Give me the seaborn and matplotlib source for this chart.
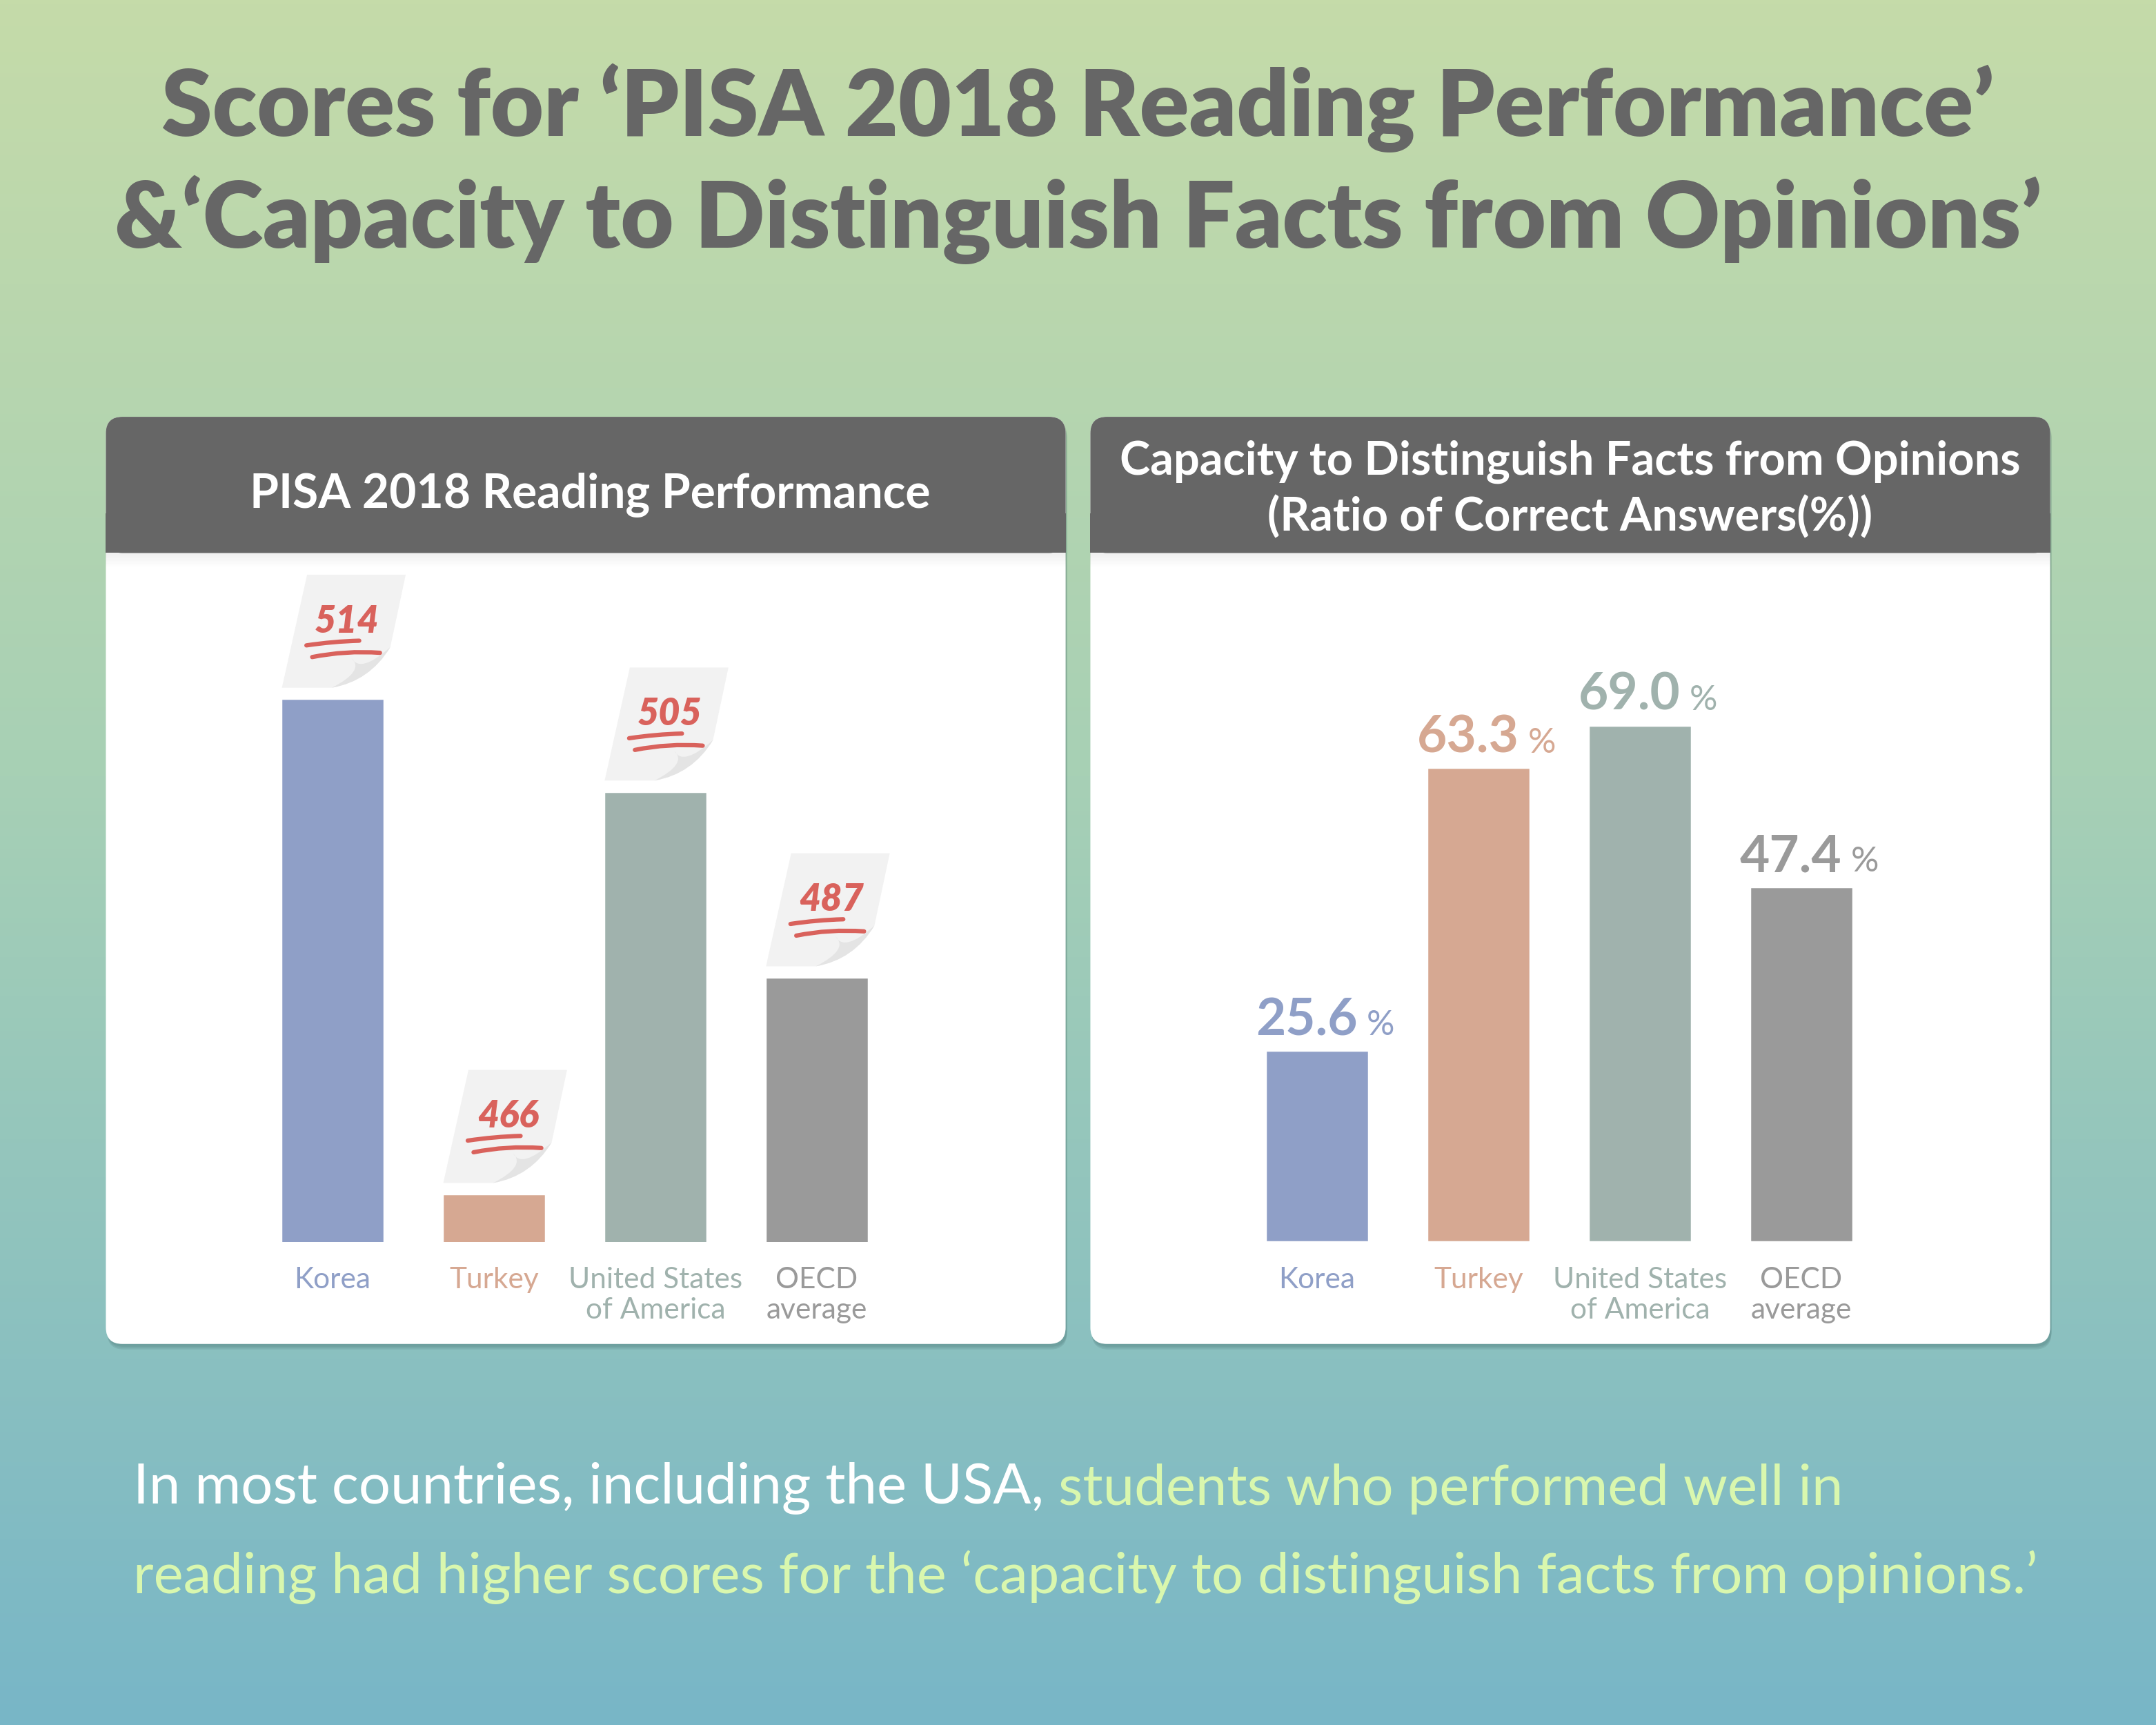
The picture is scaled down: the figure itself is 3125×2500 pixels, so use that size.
import numpy as np
import matplotlib
matplotlib.use('Agg')
import matplotlib.pyplot as plt
import seaborn as sns
from matplotlib.patches import FancyBboxPatch, Rectangle, PathPatch
from matplotlib.path import Path
from matplotlib.transforms import Affine2D, ScaledTranslation
from matplotlib.colors import to_rgb

# Datos
countries = ['Korea', 'Turkey', 'United States\nof America', 'OECD\naverage']
reading_scores = [514, 466, 505, 487]
fact_opinion_pct = [25.6, 63.3, 69.0, 47.4]
bar_colors = ['#8f9fc7', '#d6a892', '#a0b2ad', '#9a9a9a']

title_lines = ['Scores for \u2018PISA 2018 Reading Performance\u2019',
               '&\u2018Capacity to Distinguish Facts from Opinions\u2019']
left_header = 'PISA 2018 Reading Performance'
right_header = ['Capacity to Distinguish Facts from Opinions',
                '(Ratio of Correct Answers(%))']
note_white = 'In most countries, including the USA, '
note_green_1 = 'students who performed well in'
note_green_2 = 'reading had higher scores for the \u2018capacity to distinguish facts from opinions.\u2019'

sns.set_theme(style='white')
plt.rcParams['font.family'] = ['Lato', 'DejaVu Sans']

# layout units (reference picture at 1568 x 1254)
W, H = 1568, 1254
fig = plt.figure(figsize=(12.5, 10), dpi=250)
PT = 12.5 / W * 72          # points per layout unit
DISP = fig.dpi * 12.5 / W   # device pixels per layout unit

# Fondo con degradado
bg = fig.add_axes([0, 0, 1, 1], zorder=0)
bg.set_xlim(0, W)
bg.set_ylim(H, 0)
bg.axis('off')
stops = [(0.0, '#c5dba9'), (0.45, '#a7d0b5'), (1.0, '#78b6c7')]
t = np.linspace(0, 1, 400)
grad = np.zeros((400, 1, 3))
for k in range(3):
    grad[:, 0, k] = np.interp(t, [s[0] for s in stops], [to_rgb(s[1])[k] for s in stops])
bg.imshow(grad, extent=[0, W, H, 0], aspect='auto', zorder=0)

for i, line in enumerate(title_lines):
    bg.text(W / 2, [99, 180][i], line, ha='center', va='baseline',
            fontsize=38.3, fontweight='heavy', color='#666666', zorder=5)


def panel(x0):
    w, h, y0 = 698, 674, 303
    for k, a in enumerate([0.10, 0.10, 0.12]):
        bg.add_patch(FancyBboxPatch((x0 + 1, y0 + 2 + k), w, h,
                                    boxstyle='round,pad=0,rounding_size=12',
                                    fc='#2f5555', ec='none', alpha=a, zorder=1))
    bg.add_patch(FancyBboxPatch((x0, y0), w, h, boxstyle='round,pad=0,rounding_size=12',
                                fc='white', ec='none', zorder=2))
    bg.add_patch(FancyBboxPatch((x0, y0), w, 99, boxstyle='round,pad=0,rounding_size=12',
                                fc='#666666', ec='none', zorder=3))
    bg.add_patch(Rectangle((x0, y0 + 70), w, 29, fc='#666666', ec='none', zorder=3))
    for k in range(10):
        bg.add_patch(Rectangle((x0, y0 + 99 + k), w, 1, fc='black',
                               alpha=0.06 * (1 - k / 10), ec='none', zorder=3))


panel(77)
panel(793)
bg.text(429, 369, left_header, ha='center', va='baseline', fontsize=19.5,
        fontweight='bold', color='white', zorder=5)
for i, line in enumerate(right_header):
    bg.text(1142, [345, 386][i], line, ha='center', va='baseline', fontsize=19.2,
            fontweight='bold', color='white', zorder=5)

t1 = bg.text(97, 1093, note_white, ha='left', va='baseline', fontsize=23.5,
             color='white', zorder=5)
bg.annotate(note_green_1, xy=(1, 0), xycoords=t1, ha='left', va='bottom',
            fontsize=23.5, color='#d9f7ae', zorder=5)
bg.text(97, 1158, note_green_2, ha='left', va='baseline', fontsize=23.5,
        color='#d9f7ae', zorder=5)

# Ejes de barras
STEP = 117.35


def bar_axes(left_px):
    ax = fig.add_axes([left_px / W, 1 - 903 / H, 4 * STEP / W, 500 / H], zorder=4)
    ax.patch.set_alpha(0)
    return ax


def style(ax):
    ax.set_xlim(-0.5, 3.5)
    ax.set_xlabel('')
    ax.set_ylabel('')
    ax.set_yticks([])
    sns.despine(ax=ax, left=True, bottom=True)
    ax.tick_params(axis='x', length=0, pad=18 * PT, labelsize=12.2)
    for lbl, c in zip(ax.get_xticklabels(), bar_colors):
        lbl.set_color(c)
        lbl.set_linespacing(1.18)


ax1 = bar_axes(241.9 - STEP / 2)
sns.barplot(x=countries, y=reading_scores, hue=countries, palette=bar_colors,
            width=0.64, saturation=1, legend=False, ax=ax1)
ax1.set_ylim(461.3, 461.3 + 500 / 7.5)
style(ax1)

ax2 = bar_axes(241.9 + 716 - STEP / 2)
sns.barplot(x=countries, y=fact_opinion_pct, hue=countries, palette=bar_colors,
            width=0.64, saturation=1, legend=False, ax=ax2)
ax2.set_ylim(0, 500 / 5.45)
style(ax2)


def offset_trans(ax, x, y):
    return Affine2D().scale(DISP) + ScaledTranslation(x, y, ax.transData)


# Notas de papel con la puntuacion
for i, v in enumerate(reading_scores):
    tr = offset_trans(ax1, i - 0.32, v)
    paper = Path([(0.7, 7.8), (19, 90), (90.7, 90), (79.5, 37.3), (64.5, 12.6), (37, 7.8), (0.7, 7.8)],
                 [Path.MOVETO, Path.LINETO, Path.LINETO, Path.LINETO, Path.CURVE3, Path.CURVE3, Path.CLOSEPOLY])
    ax1.add_patch(PathPatch(paper, fc='#f2f2f2', ec='none', transform=tr, clip_on=False, zorder=5))
    fold = Path([(79.5, 37.3), (64.5, 12.6), (37, 7.8), (61, 20), (51.4, 29.3), (57.8, 17.9), (79.5, 37.3)],
                [Path.MOVETO, Path.CURVE3, Path.CURVE3, Path.CURVE3, Path.CURVE3, Path.CURVE3, Path.CURVE3])
    ax1.add_patch(PathPatch(fold, fc='#e4e4e4', ec='none', transform=tr, clip_on=False, zorder=6))
    ax1.text(48, 56, str(v), transform=tr, ha='center', va='center', fontsize=15.5,
             fontweight='heavy', fontstyle='italic', color='#d9625c', zorder=7, clip_on=False)
    for p0, c, p1 in [((18.5, 38.6), (38, 41.5), (56.9, 42)), ((22.7, 30.1), (47, 35), (72, 33.2))]:
        ul = Path([p0, c, p1], [Path.MOVETO, Path.CURVE3, Path.CURVE3])
        ax1.add_patch(PathPatch(ul, fill=False, ec='#d9625c', lw=1.8, capstyle='round',
                                transform=tr, clip_on=False, zorder=7))

# Etiquetas de porcentaje
for i, (v, c) in enumerate(zip(fact_opinion_pct, bar_colors)):
    ax2.annotate(f'{v:.1f}', xy=(i, v), xytext=(29.5 * PT, 11 * PT), textcoords='offset points',
                 ha='right', va='baseline', fontsize=21.5, fontweight='bold', color=c)
    ax2.annotate('%', xy=(i, v), xytext=(36 * PT, 11 * PT), textcoords='offset points',
                 ha='left', va='baseline', fontsize=14.5, color=c)

fig.savefig('out.png', dpi=250)
